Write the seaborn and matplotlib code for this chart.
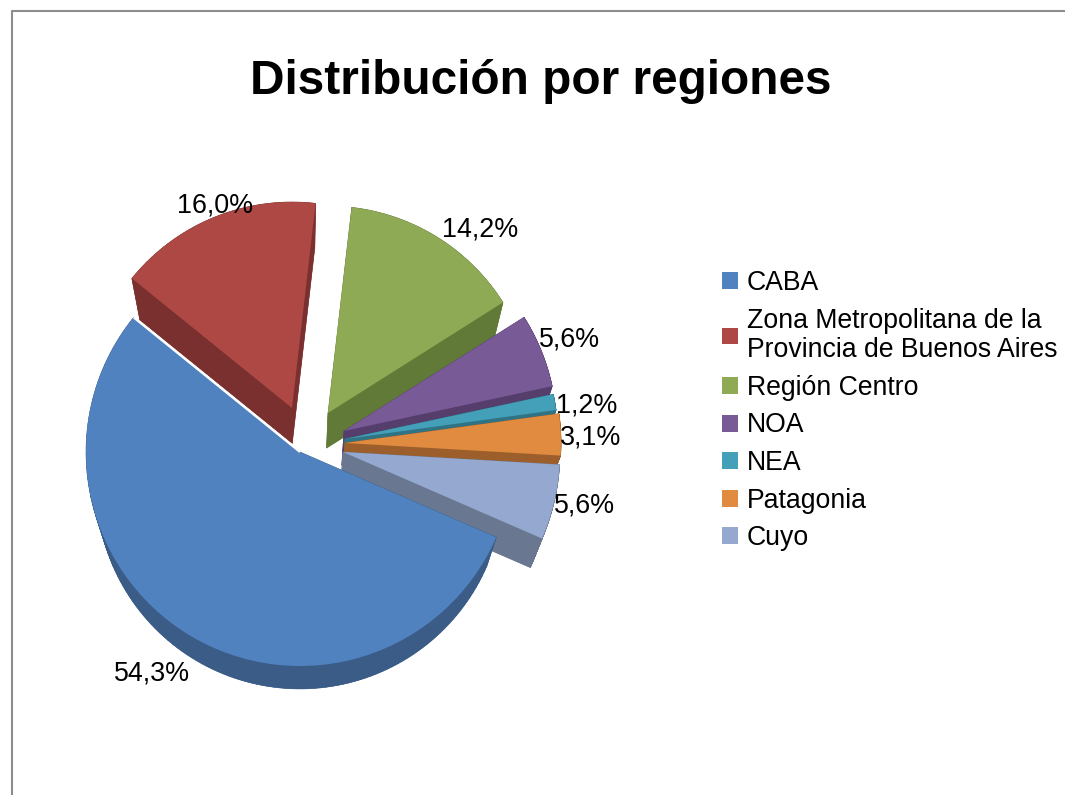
import numpy as np
import matplotlib
matplotlib.use("Agg")
import matplotlib.pyplot as plt
from matplotlib.patches import Polygon
import seaborn as sns

# Data
regions = ["CABA", "Zona Metropolitana de la\nProvincia de Buenos Aires", "Región Centro",
           "NOA", "NEA", "Patagonia", "Cuyo"]
shares = [54.3, 16.0, 14.2, 5.6, 1.2, 3.1, 5.6]
title = "Distribución por regiones"

# Style
top_colors = ["#5082BF", "#AD4845", "#8FAA54", "#775A96", "#43A0B8", "#E08B3F", "#95A9D0"]
wall_colors = ["#3B5C87", "#7A302F", "#627A37", "#553D6C", "#2F7384", "#9C5E2B", "#697890"]
W, H = 1065, 795

# Layout, in image pixels (y down)
centres = [(300, 452), (292, 408), (328, 413), (344, 431), (345, 439), (345, 443), (343, 452)]
radii = [214, 206, 207, 213, 213, 216, 217]
label_pos = [(152, 674), (215, 206), (480, 229), (570, 340), (587, 405), (591, 438), (585, 505)]
draw_order = [1, 2, 3, 4, 5, 6, 0]
persp_k = 0.952
persp_v = (298, H - 1144)

sns.set_theme(style="white")
plt.rcParams["font.family"] = ["Liberation Sans", "DejaVu Sans"]
palette = sns.color_palette(top_colors)

fig = plt.figure(figsize=(W / 100, H / 100), dpi=100, facecolor="white")
ax = fig.add_axes([0, 0, 1, 1])

wedges, _ = ax.pie(shares, colors=palette, startangle=336.5, counterclock=False,
                   radius=200, center=(298, H - 450), frame=True)
ax.set_xlim(0, W)
ax.set_ylim(0, H)
ax.set_aspect("equal")
ax.axis("off")


def project(p):
    return np.array(persp_v) + persp_k * (p - np.array(persp_v))


for i in draw_order:
    w = wedges[i]
    cx, cy = centres[i]
    w.set_center((cx, H - cy))
    w.set_radius(radii[i])
    w.set_linewidth(0)
    t = np.radians(np.linspace(w.theta1, w.theta2, 120))
    arc = np.column_stack([cx + radii[i] * np.cos(t), H - cy + radii[i] * np.sin(t)])
    outline = np.vstack([[cx, H - cy], arc])
    low = project(outline)
    z = 2 + draw_order.index(i) * 2
    ax.add_patch(Polygon(low, closed=True, fc=wall_colors[i], ec="none", zorder=z))
    for j in range(len(outline)):
        k = (j + 1) % len(outline)
        ax.add_patch(Polygon([outline[j], outline[k], low[k], low[j]], closed=True,
                             fc=wall_colors[i], ec=wall_colors[i], lw=0.4, zorder=z))
    w.set_zorder(z + 1)

# White seam on the CABA cut facing Zona Metropolitana
w0 = wedges[0]
a = np.radians(w0.theta1)
ax.plot([centres[0][0], centres[0][0] + radii[0] * np.cos(a)],
        [H - centres[0][1], H - centres[0][1] + radii[0] * np.sin(a)],
        color="white", lw=1.6, zorder=40, solid_capstyle="butt")

for v, (x, y) in zip(shares, label_pos):
    ax.text(x, H - y, f"{v:.1f}%".replace(".", ","), ha="center", va="center",
            fontsize=19.4, color="black", zorder=50)

ax.text(541, H - 81, title, ha="center", va="center", fontsize=34.4, fontweight="bold", color="black")

leg = ax.legend(wedges, regions, loc="upper left", bbox_to_anchor=(722 / W, 1 - 270 / H),
                bbox_transform=fig.transFigure, frameon=False, fontsize=19.2, labelcolor="black",
                handlelength=0.6, handleheight=0.6, handletextpad=0.32, labelspacing=0.436,
                borderpad=0, borderaxespad=0)
leg.set_zorder(60)
for txt in leg.get_texts():
    txt.set_linespacing(1.18)

# Chart-area border (left and top only reach the image)
ax.plot([11.5, 11.5, W], [0, H - 10.5, H - 10.5], color="#8C8C8C", lw=1.5, zorder=70)

fig.savefig("out.png", dpi=100, facecolor="white")
